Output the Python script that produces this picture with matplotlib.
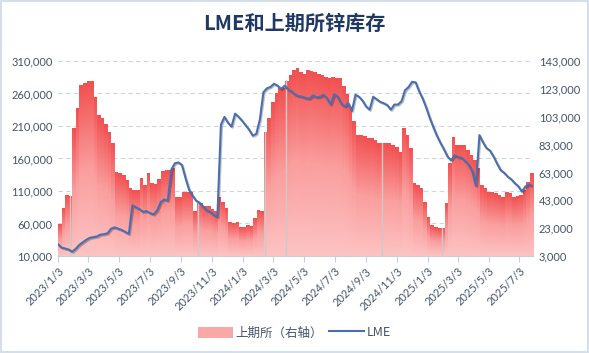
import numpy as np
import pandas as pd
import matplotlib
matplotlib.use("Agg")
import matplotlib.pyplot as plt
import matplotlib.dates as mdates
import matplotlib.patheffects as pe
from matplotlib.colors import LinearSegmentedColormap
from matplotlib.patches import Patch, Rectangle
from matplotlib.lines import Line2D
from matplotlib.transforms import blended_transform_factory

plt.rcParams['font.family'] = ['Lato', 'Noto Sans CJK SC', 'DejaVu Sans']

# weekly readings, week starting 2023/1/3
week_start = pd.date_range('2023-01-03', periods=134, freq='7D')
end_date = pd.Timestamp('2025-07-30')

# 上期所 zinc stocks (right axis), tonnes
shfe = [26000, 37500, 46800, 46000, 95000, 109000, 126000, 127000, 128600, 128600,
        117000, 104000, 102000, 98000, 92000, 84000, 63500, 62500, 61000, 57600,
        52000, 50400, 50400, 59000, 54000, 62600, 55400, 55000, 58000, 64000,
        65000, 65000, 66000, 45600, 45600, 49000, 49000, 49000, 35000, 41000,
        41000, 39000, 39000, 37000, 35000, 45600, 42000, 37500, 27600, 27000,
        27600, 24000, 24000, 25000, 24500, 30000, 36000, 35000, 92000, 102000,
        113800, 120000, 123600, 123600, 129000, 133000, 136500, 138000, 135000, 134000,
        136500, 136000, 135000, 134000, 133000, 132000, 130800, 132000, 131000, 130800,
        125000, 119000, 110000, 100000, 90000, 90000, 89000, 87700, 88000, 86000,
        84000, 84000, 84000, 84000, 83000, 81500, 78000, 95000, 90000, 80500,
        55400, 54000, 51800, 42000, 31000, 25000, 24000, 23000, 23000, 41000,
        70000, 88700, 83000, 82700, 82700, 79000, 75500, 72000, 66000, 54000,
        51800, 49000, 49000, 48000, 47000, 45600, 49000, 48000, 45600, 46000,
        47000, 50400, 56000, 62600]

# LME zinc stocks (left axis), tonnes
lme = [28000, 23000, 21500, 20000, 16600, 21000, 27000, 31000, 35000, 38000,
       39000, 40000, 43000, 43500, 45000, 52000, 54000, 52000, 50000, 47000,
       44000, 88000, 85000, 82000, 78000, 79000, 76000, 74000, 80000, 93000,
       97000, 95000, 143000, 152600, 154000, 150000, 130000, 112000, 103000, 95000,
       92000, 86000, 80000, 78000, 73000, 70000, 212000, 224000, 215000, 209000,
       229000, 224000, 218000, 211000, 204000, 195000, 198000, 220000, 262000, 268000,
       270000, 275000, 272000, 267000, 272000, 266000, 263000, 258000, 256000, 255000,
       253000, 252000, 257000, 254000, 255000, 258000, 252000, 243000, 259000, 255000,
       244000, 240000, 245000, 233000, 258000, 255000, 249000, 240000, 235000, 255000,
       251000, 247000, 245000, 242000, 235000, 243000, 243000, 248000, 265000, 270000,
       278000, 277000, 263000, 252000, 238000, 222000, 208000, 195000, 184000, 174000,
       163000, 157000, 165000, 162000, 161000, 156000, 150000, 140000, 118000, 196000,
       185000, 176000, 172000, 163000, 152000, 142000, 138000, 132000, 128000, 122000,
       117000, 109000, 117000, 120000, 117000]

# holiday weeks with missing SHFE data
gap_dates = pd.to_datetime(['2023-01-27', '2023-10-06', '2024-02-16',
                            '2024-03-29', '2024-10-05', '2025-02-01'])

left_ticks = np.arange(10000, 310001, 50000)
right_ticks = np.arange(3000, 143001, 20000)
tick_dates = pd.date_range('2023-01-01', '2025-07-01', freq='2MS') + pd.Timedelta(days=2)

txt_color = '#44546A'

fig = plt.figure(figsize=(5.89, 3.53), dpi=100)
fig.patches.append(Rectangle((0.002, 0.003), 0.996, 0.994, transform=fig.transFigure,
                             fill=False, edgecolor='#D5DFEA', linewidth=1.5))
ax2 = fig.add_axes([0.0985, 0.2748, 0.8065, 0.5524])
ax = ax2.twinx()
ax.yaxis.tick_left()
ax2.yaxis.tick_right()
ax.set_zorder(ax2.get_zorder() + 1)
ax.patch.set_visible(False)

x0 = mdates.date2num(week_start[0])
x1 = mdates.date2num(end_date)
ybot, ytop = 3000, 143000

# grid lines at left axis ticks, behind the area
gtrans = blended_transform_factory(ax2.transAxes, ax.transData)
for v in left_ticks[1:]:
    ax2.plot([0, 1], [v, v], transform=gtrans, color='#C9D5E8', lw=0.8,
             ls=(0, (4, 3)), zorder=0)

# SHFE step area: each column fades from red at its top to pink at the axis
cmap = LinearSegmentedColormap.from_list('shfe', ['#FDC3C3', '#FA9E9E', '#F25050'])
wk_num = mdates.date2num(week_start)
gx = np.linspace(x0, x1, 2000)
gy = np.linspace(ybot, ytop, 600)
h = np.array(shfe, dtype=float)[np.clip(np.searchsorted(wk_num, gx, side='right') - 1, 0, None)]
frac = (gy[:, None] - ybot) / (h[None, :] - ybot)
rgba = cmap(np.clip(frac, 0, 1))
rgba[..., 3] = (frac <= 1).astype(float)
ax2.imshow(rgba, extent=[x0, x1, ybot, ytop], aspect='auto', origin='lower',
           interpolation='nearest', zorder=1)

for d in gap_dates:
    i = np.searchsorted(week_start, d) - 1
    hh = min(shfe[i], shfe[min(i + 1, len(shfe) - 1)])
    ax2.plot([d, d], [ybot, hh], color='#CACACA', lw=1.0, zorder=2)

# LME line
lme_dates = list(week_start) + [end_date]
ax.plot(lme_dates, lme, color='#4A6FB0', lw=1.5, zorder=3,
        path_effects=[pe.SimpleLineShadow(offset=(0.8, -0.8), alpha=0.25),
                      pe.Normal()])

ax.set_ylim(10000, 310000)
ax2.set_ylim(ybot, ytop)
ax2.set_xlim(x0, x1)
ax.set_yticks(left_ticks)
ax2.set_yticks(right_ticks)
ax.set_yticklabels([f'{v:,}' for v in left_ticks])
ax2.set_yticklabels([f'{v:,}' for v in right_ticks])

ax2.set_xticks(tick_dates)
ax2.set_xticklabels([f'{d.year}/{d.month}/{d.day}' for d in tick_dates],
                    rotation=45, ha='right', rotation_mode='anchor')

for a in (ax, ax2):
    for s in a.spines.values():
        s.set_visible(False)
    a.tick_params(axis='y', length=0, labelsize=8, labelcolor=txt_color, pad=4)
ax2.spines['bottom'].set_visible(True)
ax2.spines['bottom'].set_color('#C8CED8')
ax2.tick_params(axis='x', length=4, color='#C8CED8', labelsize=8,
                labelcolor=txt_color, pad=3)
ax.tick_params(axis='x', bottom=False, labelbottom=False)

fig.text(0.5, 0.935, 'LME和上期所锌库存', ha='center', va='center', fontsize=14.5,
         fontweight='bold', color='#1F3864',
         family=['Noto Sans CJK SC', 'DejaVu Sans'])

handles = [Patch(facecolor='#F9A8A8', edgecolor='none'),
           Line2D([0], [0], color='#4A6FB0', lw=1.5)]
fig.legend(handles, ['上期所（右轴）', 'LME'], loc='center', bbox_to_anchor=(0.5, 0.057),
           ncol=2, frameon=False, handlelength=2.8, handleheight=1.0,
           columnspacing=0.5, handletextpad=0.2,
           prop={'family': ['Noto Sans CJK SC', 'DejaVu Sans'], 'size': 9},
           labelcolor=txt_color)

fig.savefig('out.png', dpi=100)
